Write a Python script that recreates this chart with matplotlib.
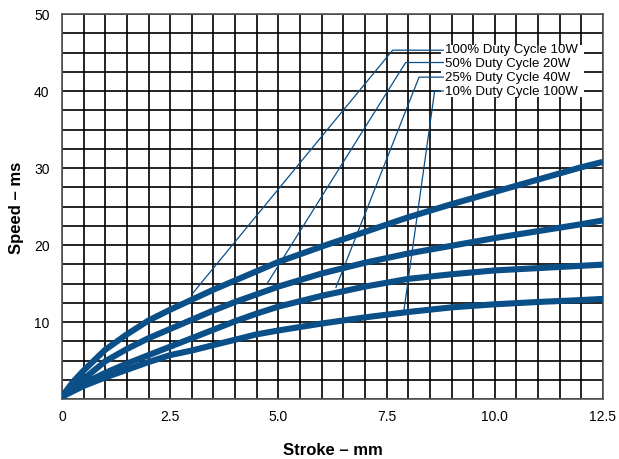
import matplotlib
matplotlib.use("Agg")
import matplotlib.pyplot as plt
from matplotlib.patches import Rectangle

plt.rcParams['font.family'] = ['Liberation Sans', 'DejaVu Sans']

# stroke (mm) positions where the curves were read
stroke = [0, 0.25, 0.5, 1, 1.5, 2, 2.5, 3, 3.5, 4, 4.5, 5, 6, 7, 8, 9, 10, 11, 12, 12.5]

# speed (ms) for each duty cycle
speed_100 = [0.3, 2.2, 3.7, 6.4, 8.4, 10.2, 11.6, 12.9, 14.2, 15.4, 16.6, 17.8,
             19.8, 21.7, 23.6, 25.3, 26.9, 28.5, 30.1, 30.8]
speed_50 = [0.3, 1.5, 2.6, 4.9, 6.5, 7.9, 9.1, 10.3, 11.5, 12.6, 13.6, 14.6,
            16.3, 17.7, 18.9, 19.9, 20.9, 21.8, 22.7, 23.2]
speed_25 = [0.3, 1.2, 2.0, 3.4, 4.6, 5.7, 6.8, 7.9, 9.0, 10.1, 11.1, 12.0,
            13.4, 14.6, 15.6, 16.2, 16.7, 17.0, 17.3, 17.45]
speed_10 = [0.3, 1.0, 1.7, 2.8, 3.8, 4.8, 5.7, 6.3, 7.0, 7.7, 8.4, 8.9,
            9.8, 10.6, 11.3, 11.9, 12.3, 12.6, 12.85, 13.0]

labels = ['100% Duty Cycle 10W', '50% Duty Cycle 20W',
          '25% Duty Cycle 40W', '10% Duty Cycle 100W']
label_y = [45.5, 43.65, 41.85, 40.05]
# leader lines: point on curve -> bend -> label
leader_start = [(3.03, 13.8), (4.73, 14.9), (6.33, 14.5), (7.9, 11.5)]
leader_bend = [(7.64, 45.3), (7.94, 43.7), (8.25, 41.8), (8.61, 40.0)]
label_x = 8.81

x_ticks = [0, 2.5, 5.0, 7.5, 10.0, 12.5]
x_tick_labels = ['0', '2.5', '5.0', '7.5', '10.0', '12.5']
y_ticks = [10, 20, 30, 40, 50]

blue = '#0a4f88'

fig = plt.figure(figsize=(6.19, 4.60), dpi=100)
ax = fig.add_axes([62/619, 60/460, 541/619, 385/460])

ax.set_xlim(0, 12.5)
ax.set_ylim(0, 50)
ax.set_xticks(x_ticks)
ax.set_xticklabels(x_tick_labels)
ax.set_xticks([i * 0.5 for i in range(26)], minor=True)
ax.set_yticks(y_ticks)
ax.set_yticks([i * 2.5 for i in range(21)], minor=True)
ax.tick_params(which='both', length=0, labelsize=10)
ax.tick_params(axis='x', pad=7)
ax.tick_params(axis='y', pad=9)
ax.grid(which='both', color='black', linewidth=1.2)
ax.set_axisbelow(True)
for s in ax.spines.values():
    s.set_color('#555555')
    s.set_linewidth(1.2)

for sp in [speed_100, speed_50, speed_25, speed_10]:
    ax.plot(stroke, sp, color=blue, linewidth=4.4, solid_capstyle='butt', zorder=3)

# white box behind the labels
ax.add_patch(Rectangle((8.75, 39.2), 3.3, 6.8, facecolor='white',
                       edgecolor='none', zorder=2))

for lab, ly, st, bd in zip(labels, label_y, leader_start, leader_bend):
    ax.plot([st[0], bd[0], label_x], [st[1], bd[1], bd[1]],
            color=blue, linewidth=0.9, zorder=4)
    ax.text(label_x + 0.04, ly, lab, fontsize=9.5, va='center', ha='left', zorder=5)

ax.set_xlabel('Stroke – mm', fontsize=12, fontweight='bold')
ax.set_ylabel('Speed – ms', fontsize=12, fontweight='bold')
ax.xaxis.set_label_coords(0.5, -0.112)
ax.yaxis.set_label_coords(-0.07, 0.5)

fig.savefig('out.png', dpi=100)
